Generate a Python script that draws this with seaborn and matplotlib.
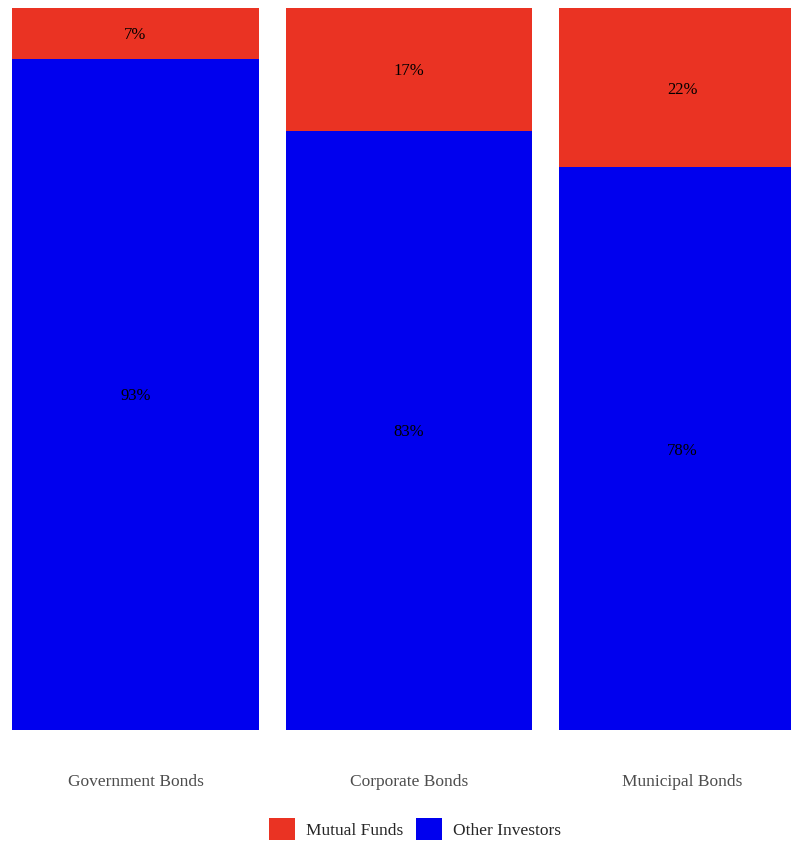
import matplotlib
matplotlib.use("Agg")
import matplotlib.pyplot as plt
import matplotlib.transforms as mtransforms
import seaborn as sns
import pandas as pd
from matplotlib.patches import Patch

categories = ["Government Bonds", "Corporate Bonds", "Municipal Bonds"]
mutual_funds = [7, 17, 22]
other_investors = [93, 83, 78]
series_names = ["Mutual Funds", "Other Investors"]
colors = {"Mutual Funds": "#EA3323", "Other Investors": "#0000EE"}

sns.set_theme(style="white")
plt.rcParams["font.family"] = ["Liberation Serif", "DejaVu Serif"]

df = pd.DataFrame({"category": categories,
                   "mutual": [m / 100 for m in mutual_funds],
                   "other": [o / 100 for o in other_investors]})
df["total"] = df["mutual"] + df["other"]

fig = plt.figure(figsize=(7.91, 8.41), dpi=100)
W, H = 791, 841
ax_left, ax_right = -1.25, 819.25
ax_bottom, ax_top = 730, 8
ax = fig.add_axes([ax_left / W, (H - ax_bottom) / H,
                   (ax_right - ax_left) / W, (ax_bottom - ax_top) / H])

sns.barplot(data=df, x="category", y="total", order=categories,
            color=colors["Mutual Funds"], width=0.9, linewidth=0,
            saturation=1, ax=ax)
sns.barplot(data=df, x="category", y="other", order=categories,
            color=colors["Other Investors"], width=0.9, linewidth=0,
            saturation=1, ax=ax)

ax.set_xlim(-0.5, 2.5)
ax.set_ylim(0, 1)
for s in ax.spines.values():
    s.set_visible(False)
ax.set_yticks([])
ax.set_xlabel("")
ax.set_ylabel("")
ax.tick_params(axis="x", length=0, pad=31.5, labelsize=12.5, labelcolor="#4D4D4D")

shift = mtransforms.offset_copy(ax.transData, fig=fig, x=0, y=-1.5, units="points")
for i, row in df.iterrows():
    ax.text(i, row["other"] / 2, f"{other_investors[i]}%", ha="center", va="center",
            fontsize=12, color="black", transform=shift)
    ax.text(i, row["other"] + row["mutual"] / 2, f"{mutual_funds[i]}%", ha="center",
            va="center", fontsize=12, color="black", transform=shift)

handles = [Patch(facecolor=colors[n], edgecolor="none", label=n) for n in series_names]
fig.legend(handles=handles, loc="center", bbox_to_anchor=(415 / W, (H - 829) / H),
           ncol=2, frameon=False, fontsize=12.5, handlelength=1.5, handleheight=1.5,
           handletextpad=0.63, columnspacing=0.69, borderpad=0, borderaxespad=0)

fig.savefig("out.png", dpi=100)
